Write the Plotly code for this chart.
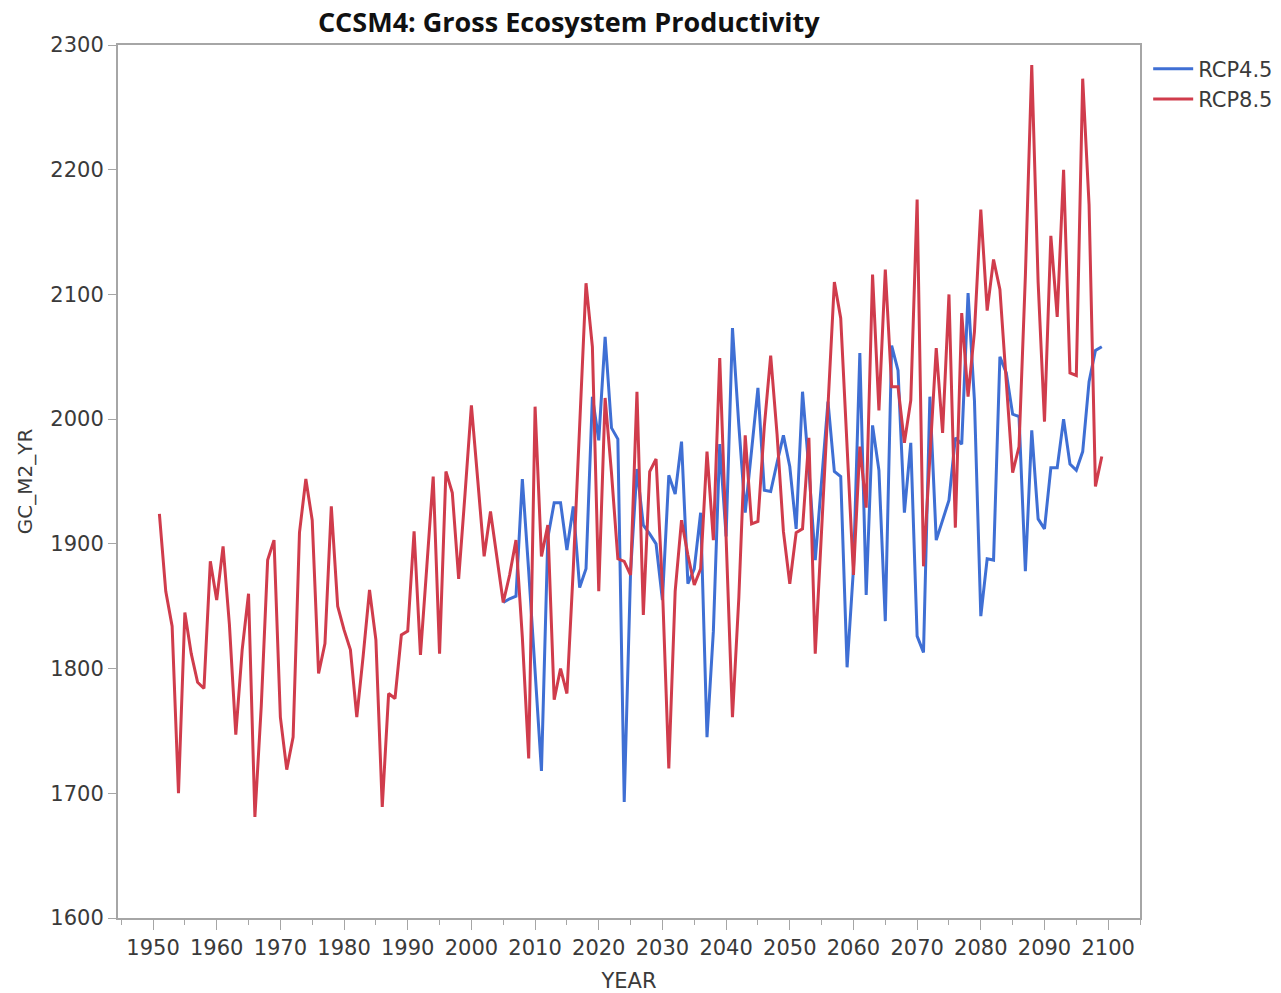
import plotly.graph_objects as go

# Annual gross ecosystem productivity (g C m-2 yr-1) from CCSM4
years_rcp85 = list(range(1951, 2100))
gep_rcp85 = [
    1924, 1862, 1834, 1700, 1845, 1812, 1789, 1784, 1886, 1855,  # 1951-1960
    1898, 1835, 1747, 1815, 1860, 1681, 1770, 1887, 1903, 1761,  # 1961-1970
    1719, 1745, 1909, 1952, 1919, 1796, 1820, 1930, 1850, 1831,  # 1971-1980
    1815, 1761, 1810, 1863, 1823, 1689, 1780, 1776, 1827, 1830,  # 1981-1990
    1910, 1811, 1882, 1954, 1812, 1958, 1941, 1872, 1940, 2011,  # 1991-2000
    1951, 1890, 1926, 1890, 1853, 1875, 1903, 1825, 1728, 2010,  # 2001-2010
    1890, 1915, 1775, 1800, 1780, 1880, 1990, 2109, 2058, 1862,  # 2011-2020
    2017, 1957, 1888, 1886, 1875, 2022, 1843, 1958, 1968, 1865,  # 2021-2030
    1720, 1862, 1919, 1891, 1867, 1880, 1974, 1903, 2049, 1906,  # 2031-2040
    1761, 1857, 1987, 1916, 1918, 1994, 2051, 1988, 1910, 1868,  # 2041-2050
    1909, 1912, 1985, 1812, 1910, 2010, 2110, 2081, 1975, 1875,  # 2051-2060
    1978, 1929, 2116, 2007, 2120, 2026, 2026, 1981, 2015, 2176,  # 2061-2070
    1882, 1970, 2057, 1989, 2100, 1913, 2085, 2018, 2070, 2168,  # 2071-2080
    2087, 2128, 2104, 2030, 1957, 1978, 2115, 2284, 2110, 1998,  # 2081-2090
    2147, 2082, 2200, 2037, 2035, 2273, 2172, 1946, 1970,        # 2091-2099
]

years_rcp45 = list(range(2005, 2100))
gep_rcp45 = [
    1853, 1856, 1858, 1952, 1878, 1800,                          # 2005-2010
    1718, 1905, 1933, 1933, 1895, 1930, 1865, 1880, 2018, 1983,  # 2011-2020
    2066, 1993, 1984, 1693, 1878, 1960, 1915, 1908, 1900, 1855,  # 2021-2030
    1955, 1940, 1982, 1868, 1880, 1925, 1745, 1830, 1980, 1906,  # 2031-2040
    2073, 1995, 1925, 1975, 2025, 1943, 1942, 1965, 1987, 1962,  # 2041-2050
    1912, 2022, 1960, 1887, 1950, 2014, 1958, 1954, 1801, 1880,  # 2051-2060
    2053, 1859, 1995, 1959, 1838, 2059, 2039, 1925, 1981, 1826,  # 2061-2070
    1813, 2018, 1903, 1919, 1935, 1985, 1980, 2101, 2015, 1842,  # 2071-2080
    1888, 1887, 2050, 2037, 2004, 2002, 1878, 1991, 1920, 1912,  # 2081-2090
    1961, 1961, 2000, 1964, 1959, 1974, 2030, 2055, 2058,        # 2091-2099
]

x_ticks = list(range(1950, 2101, 10))
y_ticks = list(range(1600, 2301, 100))

BLUE = "#3f6fd4"
RED = "#d03c4c"
AXIS = "#a6a6a6"
TEXT = "#3a3a3a"
FONT = "DejaVu Sans"

fig = go.Figure()
fig.add_trace(go.Scatter(
    x=years_rcp45, y=gep_rcp45, mode="lines", name="RCP4.5",
    line=dict(color=BLUE, width=3),
))
fig.add_trace(go.Scatter(
    x=years_rcp85, y=gep_rcp85, mode="lines", name="RCP8.5",
    line=dict(color=RED, width=3),
))

fig.update_layout(
    width=1281, height=993,
    margin=dict(l=118, r=141, t=45, b=75, autoexpand=False),
    paper_bgcolor="white", plot_bgcolor="white",
    font=dict(family=FONT, size=20, color=TEXT),
    title=dict(
        text="<b>CCSM4: Gross Ecosystem Productivity</b>",
        x=0.444, xanchor="center", y=0.977, yanchor="middle",
        font=dict(family="Open Sans", size=27, color="#111111"),
    ),
    showlegend=True,
    legend=dict(
        x=1.008, xanchor="left", y=0.996, yanchor="top",
        font=dict(family=FONT, size=21, color=TEXT),
        bgcolor="rgba(0,0,0,0)", itemwidth=40,
    ),
    xaxis=dict(
        range=[1944.5, 2105], tickmode="array", tickvals=x_ticks,
        ticktext=[str(v) for v in x_ticks],
        ticks="outside", ticklen=10, tickcolor=AXIS, tickwidth=1,
        minor=dict(dtick=5, tick0=1950, ticks="outside", ticklen=5, tickcolor=AXIS),
        showline=True, linecolor=AXIS, linewidth=2, mirror=True,
        showgrid=False, zeroline=False, automargin=False,
        tickfont=dict(family=FONT, size=21, color=TEXT),
        title=dict(text="YEAR", font=dict(family=FONT, size=21, color=TEXT), standoff=14),
    ),
    yaxis=dict(
        range=[1600, 2300], tickmode="array", tickvals=y_ticks,
        ticks="outside", ticklen=8, tickcolor=AXIS, tickwidth=1,
        showline=True, linecolor=AXIS, linewidth=2, mirror=True,
        showgrid=False, zeroline=False, automargin=False,
        tickfont=dict(family=FONT, size=21, color=TEXT),
        title=dict(text="GC_M2_YR", font=dict(family=FONT, size=20, color=TEXT), standoff=12),
    ),
)

fig.write_html("out.html")
